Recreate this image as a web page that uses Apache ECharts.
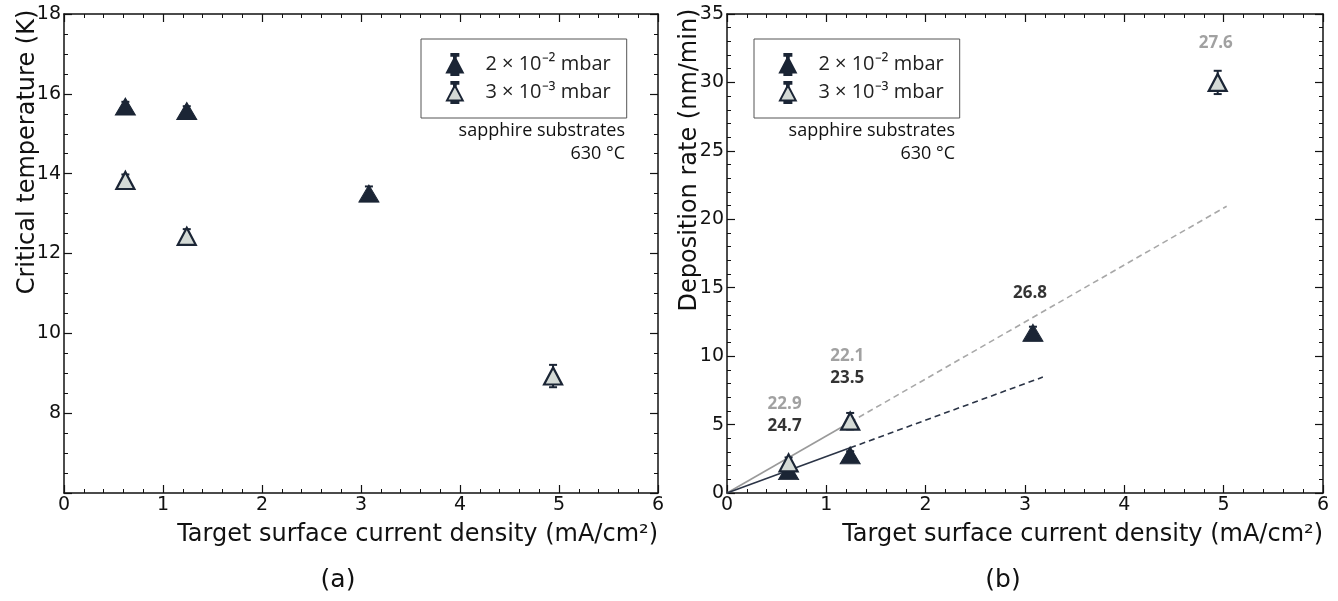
<!DOCTYPE html>
<html><head><meta charset="utf-8">
<script src="https://cdn.jsdelivr.net/npm/echarts@6/dist/echarts.min.js"></script>
<style>html,body{margin:0;padding:0;background:#fff}#c{width:1338px;height:601px}</style>
</head><body><div id="c"></div>
<script>
// ---------- data ----------
const seriesNames = ['2 × 10⁻² mbar', '3 × 10⁻³ mbar'];
const xHigh = [0.62, 1.24, 3.08];
const xLow = [0.62, 1.24, 4.94];
const tcHigh = [15.68, 15.57, 13.5];
const tcHighErr = [0.12, 0.12, 0.18];
const tcLow = [13.83, 12.43, 8.93];
const tcLowErr = [0.15, 0.18, 0.28];
const rateHigh = [1.6, 2.75, 11.7];
const rateHighErr = [0.3, 0.3, 0.45];
const rateLow = [2.2, 5.25, 30.0];
const rateLowErr = [0.4, 0.6, 0.85];
// fitted lines: solid part to index 1, dashed extension to index 2
const fitLowX = [0, 1.24, 5.03];
const fitLowY = [0, 5.17, 20.95];
const fitHighX = [0, 1.24, 3.18];
const fitHighY = [0, 3.3, 8.47];
// numeric annotations on panel (b)
const annLowX = [4.92, 1.21, 0.58];
const annLowY = [32.9, 10.0, 6.5];
const annLowText = ['27.6', '22.1', '22.9'];
const annHighX = [3.05, 1.21, 0.58];
const annHighY = [14.6, 8.4, 4.85];
const annHighText = ['26.8', '23.5', '24.7'];
// axis ticks
const xTicks = {min: 0, max: 6, interval: 1};
const tcTicks = {min: 6, max: 18, interval: 2};
const rateTicks = {min: 0, max: 35, interval: 5};

// ---------- styling ----------
const DARK = '#1b2535';
const LIGHT = '#d4dad6';
const GRAY_TXT = '#8a8a8a';
const TICKFONT = 'DejaVu Sans, sans-serif';
const NOTEFONT = 'Open Sans, sans-serif';

function axisCommon(showLabels, minorSplit) {
  return {
    type: 'value',
    axisLine: {show: true, onZero: false, lineStyle: {color: '#111', width: 1.5}},
    axisTick: {show: true, inside: true, length: 8, lineStyle: {color: '#111', width: 1.2}},
    minorTick: {show: true, splitNumber: minorSplit, length: 4, lineStyle: {color: '#111', width: 1}},
    splitLine: {show: false},
    minorSplitLine: {show: false},
    axisLabel: {show: showLabels, fontFamily: TICKFONT, fontSize: 19, color: '#111', margin: 3}
  };
}
function mkX(grid, pos, show) {
  return Object.assign(axisCommon(show, 5), {gridIndex: grid, position: pos}, xTicks);
}
function mkY(grid, pos, show, ticks, minor, fmt) {
  const a = Object.assign(axisCommon(show, minor), {gridIndex: grid, position: pos}, ticks);
  if (fmt) a.axisLabel.formatter = fmt;
  return a;
}

function errorSeries(xs, ys, es, xi, yi) {
  return {
    type: 'custom', xAxisIndex: xi, yAxisIndex: yi, z: 2, silent: true,
    data: xs.map((x, i) => [x, ys[i], es[i]]),
    renderItem: function (params, api) {
      const x = api.value(0), y = api.value(1), e = api.value(2);
      const t = api.coord([x, y + e]), b = api.coord([x, y - e]);
      const st = {stroke: DARK, lineWidth: 2};
      return {type: 'group', children: [
        {type: 'line', shape: {x1: t[0], y1: t[1], x2: b[0], y2: b[1]}, style: st},
        {type: 'line', shape: {x1: t[0] - 4, y1: t[1], x2: t[0] + 4, y2: t[1]}, style: st},
        {type: 'line', shape: {x1: b[0] - 4, y1: b[1], x2: b[0] + 4, y2: b[1]}, style: st}
      ]};
    }
  };
}
function markerSeries(name, xs, ys, xi, yi, light) {
  return {
    type: 'scatter', name: name, xAxisIndex: xi, yAxisIndex: yi, z: 3,
    symbol: 'triangle', symbolSize: light ? [18, 17] : [20, 17],
    itemStyle: light ? {color: LIGHT, borderColor: DARK, borderWidth: 2.2, opacity: 1}
                     : {color: DARK, borderColor: DARK, borderWidth: 1, opacity: 1},
    data: xs.map((x, i) => [x, ys[i]])
  };
}
function lineSeries(xs, ys, from, to, color, type, xi, yi) {
  const d = [];
  for (let i = from; i <= to; i++) d.push([xs[i], ys[i]]);
  return {type: 'line', xAxisIndex: xi, yAxisIndex: yi, z: 1, symbol: 'none', silent: true,
    lineStyle: {color: color, width: 1.6, type: type}, data: d};
}
function annSeries(xs, ys, texts, color, xi, yi) {
  return {
    type: 'scatter', xAxisIndex: xi, yAxisIndex: yi, z: 4, symbolSize: 1, silent: true,
    itemStyle: {color: 'rgba(0,0,0,0)'},
    data: xs.map((x, i) => [x, ys[i]]),
    label: {show: true, position: 'inside', color: color, fontFamily: NOTEFONT,
      fontWeight: 'bold', fontSize: 17,
      formatter: p => texts[p.dataIndex]}
  };
}

const ICON_HI = 'path://M6,0 L14,0 L14,2 L6,2 Z M9,2 L11,2 L11,5 L9,5 Z M10,4 L19,21 L1,21 Z M6,22 L14,22 L14,24 L6,24 Z';
function mkLegend(left) {
  return {
    left: left, top: 39, orient: 'vertical',
    padding: [14, 16, 14, 25], itemGap: 5, itemWidth: 17, itemHeight: 21,
    borderColor: '#555', borderWidth: 1, backgroundColor: '#fff',
    selectedMode: false,
    data: seriesNames.map(n => ({name: n, icon: ICON_HI})),
    textStyle: {fontFamily: NOTEFONT, fontSize: 20, color: '#222', padding: [0, 0, 0, 17]}
  };
}
function txt(x, y, text, opt) {
  return {type: 'text', x: x, y: y, rotation: opt.rot || 0, silent: true,
    style: Object.assign({text: text, fill: '#111', fontFamily: TICKFONT, fontSize: 24,
      textAlign: 'center', textVerticalAlign: 'middle'}, opt.style || {})};
}

const option = {
  animation: false,
  backgroundColor: '#fff',
  grid: [
    {left: 64, right: 680, top: 14, bottom: 108},
    {left: 727, right: 15, top: 14, bottom: 108}
  ],
  xAxis: [mkX(0, 'bottom', true), mkX(0, 'top', false), mkX(1, 'bottom', true), mkX(1, 'top', false)],
  yAxis: [
    mkY(0, 'left', true, tcTicks, 4, v => (v === 6 ? '' : String(v))),
    mkY(0, 'right', false, tcTicks, 4),
    mkY(1, 'left', true, rateTicks, 5),
    mkY(1, 'right', false, rateTicks, 5)
  ],
  legend: [mkLegend(421), mkLegend(754)],
  series: [
    errorSeries(xHigh, tcHigh, tcHighErr, 0, 0),
    errorSeries(xLow, tcLow, tcLowErr, 0, 0),
    markerSeries(seriesNames[0], xHigh, tcHigh, 0, 0, false),
    markerSeries(seriesNames[1], xLow, tcLow, 0, 0, true),

    lineSeries(fitLowX, fitLowY, 0, 1, '#9a9a9a', 'solid', 2, 2),
    lineSeries(fitLowX, fitLowY, 1, 2, '#a8a8a8', [6, 4], 2, 2),
    lineSeries(fitHighX, fitHighY, 0, 1, '#2b3446', 'solid', 2, 2),
    lineSeries(fitHighX, fitHighY, 1, 2, '#2b3446', [6, 4], 2, 2),
    errorSeries(xHigh, rateHigh, rateHighErr, 2, 2),
    errorSeries(xLow, rateLow, rateLowErr, 2, 2),
    markerSeries(seriesNames[0], xHigh, rateHigh, 2, 2, false),
    markerSeries(seriesNames[1], xLow, rateLow, 2, 2, true),
    annSeries(annLowX, annLowY, annLowText, GRAY_TXT, 2, 2),
    annSeries(annHighX, annHighY, annHighText, '#000', 2, 2)
  ],
  graphic: [
    txt(28, 152, 'Critical temperature (K)', {rot: Math.PI / 2}),
    txt(690, 160, 'Deposition rate (nm/min)', {rot: Math.PI / 2}),
    txt(658, 535, 'Target surface current density (mA/cm²)', {style: {textAlign: 'right'}}),
    txt(1323, 535, 'Target surface current density (mA/cm²)', {style: {textAlign: 'right'}}),
    txt(338, 580, '(a)', {style: {fontSize: 25}}),
    txt(1003, 580, '(b)', {style: {fontSize: 25}}),
    txt(625, 131, 'sapphire substrates', {style: {textAlign: 'right', fontFamily: NOTEFONT, fontSize: 18}}),
    txt(625, 154, '630 °C', {style: {textAlign: 'right', fontFamily: NOTEFONT, fontSize: 18}}),
    txt(955, 131, 'sapphire substrates', {style: {textAlign: 'right', fontFamily: NOTEFONT, fontSize: 18}}),
    txt(955, 154, '630 °C', {style: {textAlign: 'right', fontFamily: NOTEFONT, fontSize: 18}})
  ]
};
const chart = echarts.init(document.getElementById('c'), null, {renderer: 'canvas'});
chart.setOption(option);
</script>
</body></html>
